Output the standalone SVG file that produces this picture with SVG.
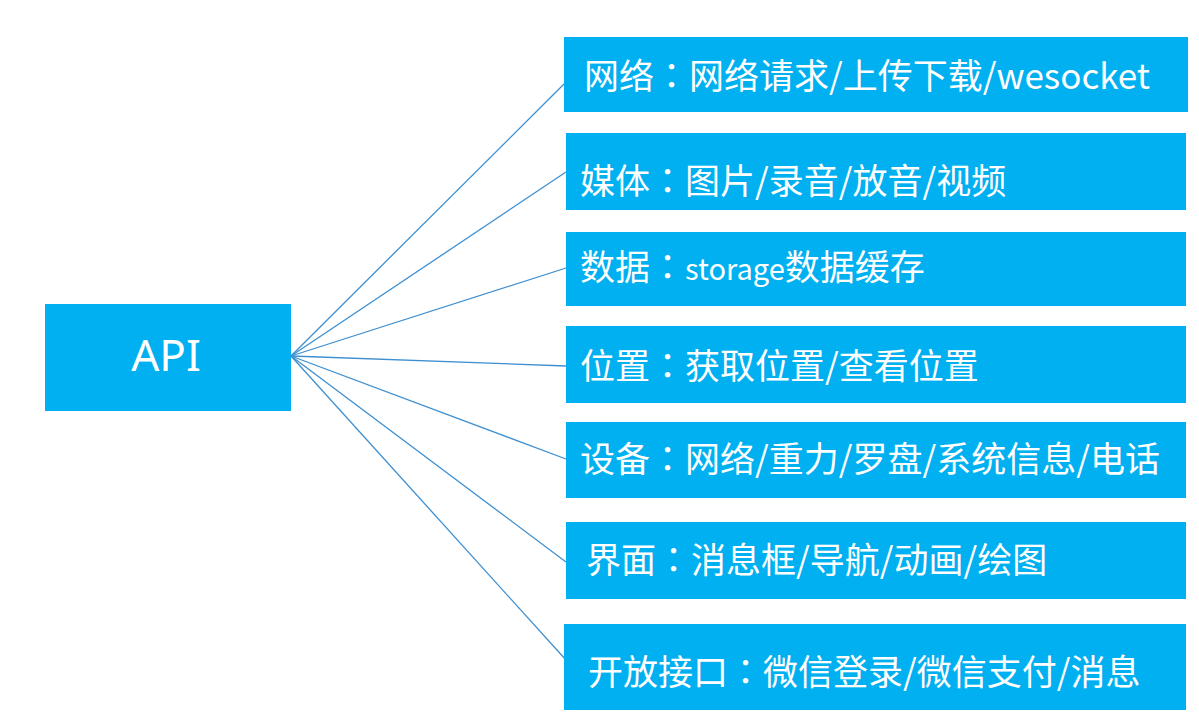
<svg xmlns="http://www.w3.org/2000/svg" width="1199" height="721" viewBox="0 0 1199 721">
<style>
.box{fill:#00b0f0;}
.lbl{fill:#ffffff;font-family:"Noto Sans CJK SC","Noto Sans",sans-serif;font-size:35px;}
.c{font-family:"Noto Sans CJK TC","Noto Sans CJK SC",sans-serif;}
.api{fill:#ffffff;font-family:"Noto Sans","Noto Sans CJK SC",sans-serif;font-size:44px;text-anchor:middle;}
.conn{stroke:#3d8fd1;stroke-width:1.3;fill:none;}
</style>
<rect width="1199" height="721" fill="#ffffff"/>
<g id="connectors">
<line class="conn" x1="291" y1="356" x2="564" y2="84"/>
<line class="conn" x1="291" y1="356" x2="566" y2="172"/>
<line class="conn" x1="291" y1="356" x2="566" y2="268"/>
<line class="conn" x1="291" y1="356" x2="566" y2="366"/>
<line class="conn" x1="291" y1="356" x2="566" y2="459"/>
<line class="conn" x1="291" y1="356" x2="566" y2="562"/>
<line class="conn" x1="291" y1="356" x2="566" y2="660"/>
</g>
<g id="api">
<rect class="box" x="45" y="304" width="246" height="107"/>
<text class="api" x="166" y="371">API</text>
</g>
<g id="network">
<rect class="box" x="564" y="37" width="624" height="75"/>
<text class="lbl" x="584" y="89">网络<tspan class="c">：</tspan>网络请求/上传下载/wesocket</text>
</g>
<g id="media">
<rect class="box" x="566" y="133" width="620" height="77"/>
<text class="lbl" x="580" y="194">媒体<tspan class="c">：</tspan>图片/录音/放音/视频</text>
</g>
<g id="data">
<rect class="box" x="566" y="232" width="620" height="74"/>
<text class="lbl" x="580" y="280">数据<tspan class="c">：</tspan><tspan font-size="29">storage</tspan>数据缓存</text>
</g>
<g id="location">
<rect class="box" x="566" y="326" width="620" height="77"/>
<text class="lbl" x="580" y="379">位置<tspan class="c">：</tspan>获取位置/查看位置</text>
</g>
<g id="device">
<rect class="box" x="566" y="422" width="620" height="76"/>
<text class="lbl" x="580" y="472">设备<tspan class="c">：</tspan>网络/重力/罗盘/系统信息/电话</text>
</g>
<g id="ui">
<rect class="box" x="566" y="522" width="620" height="77"/>
<text class="lbl" x="586" y="573">界面<tspan class="c">：</tspan>消息框/导航/动画/绘图</text>
</g>
<g id="open">
<rect class="box" x="564" y="624" width="622" height="86"/>
<text class="lbl" x="588" y="685">开放接口<tspan class="c">：</tspan>微信登录/微信支付/消息</text>
</g>
</svg>
